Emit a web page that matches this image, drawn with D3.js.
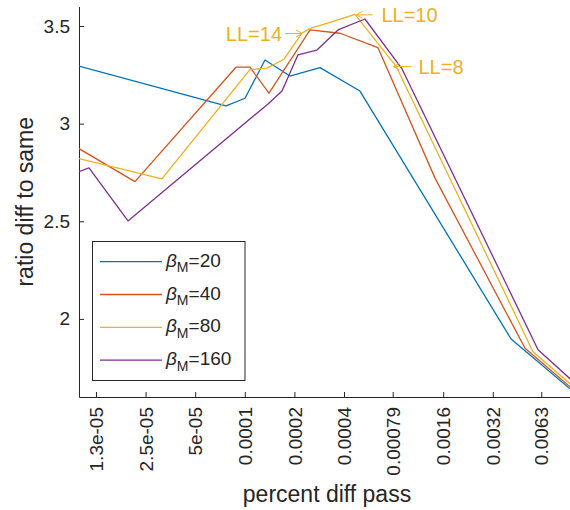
<!DOCTYPE html>
<html>
<head>
<meta charset="utf-8">
<script src="https://cdn.jsdelivr.net/npm/d3@7"></script>
<style>
  body { margin: 0; background: #fff; }
  svg { font-family: "Liberation Sans", Arial, Helvetica, sans-serif; }
</style>
</head>
<body>
<div id="app"></div>
<script>
// data
let beta20X = [9.86e-6, 7.69e-5, 1.003e-4, 1.326e-4, 1.88e-4, 2.86e-4, 5.0e-4, 4.13e-3, 9.41e-3];
let beta20Y = [3.295, 3.091, 3.130, 3.326, 3.244, 3.287, 3.167, 1.897, 1.642];

let beta40X = [9.86e-6, 2.155e-5, 8.84e-5, 1.075e-4, 1.402e-4, 2.49e-4, 3.78e-4, 6.43e-4, 1.427e-3, 5.02e-3, 9.41e-3];
let beta40Y = [2.872, 2.703, 3.289, 3.289, 3.156, 3.480, 3.463, 3.389, 2.721, 1.850, 1.652];

let beta80X = [9.86e-6, 3.14e-5, 1.075e-4, 1.364e-4, 1.729e-4, 2.225e-4, 2.49e-4, 3.15e-4, 4.66e-4, 8.27e-4, 5.61e-3, 9.41e-3];
let beta80Y = [2.821, 2.717, 3.277, 3.284, 3.330, 3.464, 3.488, 3.514, 3.560, 3.295, 1.832, 1.668];

let beta160X = [9.86e-6, 1.134e-5, 1.955e-5, 1.383e-4, 1.682e-4, 2.10e-4, 2.74e-4, 3.68e-4, 5.36e-4, 9.0e-4, 6.02e-3, 9.41e-3];
let beta160Y = [2.754, 2.773, 2.502, 3.101, 3.167, 3.352, 3.377, 3.480, 3.536, 3.280, 1.842, 1.694];

let betaNames = ["20", "40", "80", "160"];
let seriesX = [beta20X, beta40X, beta80X, beta160X];
let seriesY = [beta20Y, beta40Y, beta80Y, beta160Y];

let xTickValues = [1.25e-5, 2.5e-5, 5e-5, 1e-4, 2e-4, 4e-4, 7.9e-4, 1.6e-3, 3.2e-3, 6.3e-3];
let xTickLabels = ["1.3e-05", "2.5e-05", "5e-05", "0.0001", "0.0002", "0.0004", "0.00079", "0.0016", "0.0032", "0.0063"];
let yTickValues = [2, 2.5, 3, 3.5];
let yTickLabels = ["2", "2.5", "3", "3.5"];

// LL annotations point at vertices of the beta=80 curve
let llLabels = ["LL=14", "LL=10", "LL=8"];
let llPointIndex = [5, 8, 9];

let colors = ["#0072BD", "#D95319", "#EDB120", "#7E2F8E"];
let axisColor = "#262626";

let svg = d3.select("#app")
.append("svg")
    .attr("width", 570)
    .attr("height", 510)

let plotLeft = 79, plotRight = 570, plotTop = 6.5, plotBottom = 397;

let x = d3.scaleLog()
    .domain([9.86e-6, 9.41e-3])
    .range([plotLeft, plotRight]);
let y = d3.scaleLinear()
    .domain([1.6, 3.6])
    .range([plotBottom, plotTop]);

// clip lines to the axes area
svg.append("clipPath")
    .attr("id", "plotclip")
  .append("rect")
    .attr("x", plotLeft).attr("y", plotTop)
    .attr("width", plotRight - plotLeft).attr("height", plotBottom - plotTop);

// x axis
let xAxis = svg.append("g")
    .attr("transform", "translate(0," + plotBottom + ")")
    .call(d3.axisBottom(x)
        .tickValues(xTickValues)
        .tickFormat((d, i) => xTickLabels[i])
        .tickSizeInner(-5)
        .tickSizeOuter(0));
xAxis.selectAll("text")
    .attr("transform", "rotate(-90)")
    .attr("x", -10)
    .attr("y", 0)
    .attr("dy", "0.35em")
    .attr("text-anchor", "end");

// y axis
let yAxis = svg.append("g")
    .attr("transform", "translate(" + plotLeft + ",0)")
    .call(d3.axisLeft(y)
        .tickValues(yTickValues)
        .tickFormat((d, i) => yTickLabels[i])
        .tickSizeInner(-5)
        .tickSizeOuter(0)
        .tickPadding(9));

[xAxis, yAxis].forEach(function(a) {
    a.select(".domain").attr("stroke", axisColor).attr("stroke-width", 1);
    a.selectAll(".tick line").attr("stroke", axisColor).attr("stroke-width", 1);
    a.selectAll("text")
        .attr("fill", axisColor)
        .style("font-size", "19px")
        .style("font-family", "'Liberation Sans', Arial, Helvetica, sans-serif");
});

// axis titles
svg.append("text")
    .attr("x", 327)
    .attr("y", 502)
    .attr("text-anchor", "middle")
    .attr("fill", axisColor)
    .style("font-size", "23px")
    .text("percent diff pass");

svg.append("text")
    .attr("transform", "translate(33," + ((plotTop + plotBottom) / 2) + ") rotate(-90)")
    .attr("text-anchor", "middle")
    .attr("fill", axisColor)
    .style("font-size", "23px")
    .text("ratio diff to same");

// lines
let line = d3.line()
    .x(d => x(d[0]))
    .y(d => y(d[1]));

let lines = svg.append("g").attr("clip-path", "url(#plotclip)");
seriesX.forEach(function(xs, i) {
    let pts = xs.map((v, j) => [v, seriesY[i][j]]);
    lines.append("path")
        .datum(pts)
        .attr("fill", "none")
        .attr("stroke", colors[i])
        .attr("stroke-width", 1.3)
        .attr("stroke-linejoin", "round")
        .attr("d", line);
});

// LL text arrows (yellow)
let llColor = colors[2];
let arrowSpecs = [
    {dir: 1, len: 17, gap: 3, tipDx: 0},
    {dir: -1, len: 16, gap: 9, tipDx: 1.5},
    {dir: -1, len: 18, gap: 7, tipDx: -2.5}
];
llLabels.forEach(function(lbl, i) {
    let k = llPointIndex[i];
    let s = arrowSpecs[i];
    let tx = x(beta80X[k]) + s.tipDx;
    let ty = y(beta80Y[k]) + 0.5;
    // tail on the side of the text
    let tailX = tx - s.dir * s.len;
    let g = svg.append("g").attr("stroke", llColor).attr("stroke-width", 1).attr("fill", "none");
    g.append("line")
        .attr("x1", tailX).attr("y1", ty)
        .attr("x2", tx).attr("y2", ty);
    g.append("path")
        .attr("d", "M" + (tx - s.dir * 6) + "," + (ty - 3.5) + "L" + tx + "," + ty + "L" + (tx - s.dir * 6) + "," + (ty + 3.5));
    svg.append("text")
        .attr("x", tailX - s.dir * s.gap)
        .attr("y", ty)
        .attr("dy", "0.36em")
        .attr("text-anchor", s.dir > 0 ? "end" : "start")
        .attr("fill", llColor)
        .style("font-size", "20px")
        .text(lbl);
});

// legend
let legend = svg.append("g");
legend.append("rect")
    .attr("x", 92.5)
    .attr("y", 241.5)
    .attr("width", 152.5)
    .attr("height", 139)
    .attr("fill", "#fff")
    .attr("stroke", axisColor)
    .attr("stroke-width", 1);

betaNames.forEach(function(name, i) {
    let ry = 261.7 + i * 32.8;
    legend.append("line")
        .attr("x1", 100).attr("x2", 162)
        .attr("y1", ry).attr("y2", ry)
        .attr("stroke", colors[i])
        .attr("stroke-width", 1.3);
    let t = legend.append("text")
        .attr("x", 166)
        .attr("y", ry + 5)
        .attr("fill", axisColor)
        .style("font-size", "19px");
    t.append("tspan").style("font-style", "italic").text("β");
    t.append("tspan").attr("dy", 5.5).style("font-size", "14px").text("M");
    t.append("tspan").attr("dy", -5.5).text("=" + name);
});
</script>
</body>
</html>
